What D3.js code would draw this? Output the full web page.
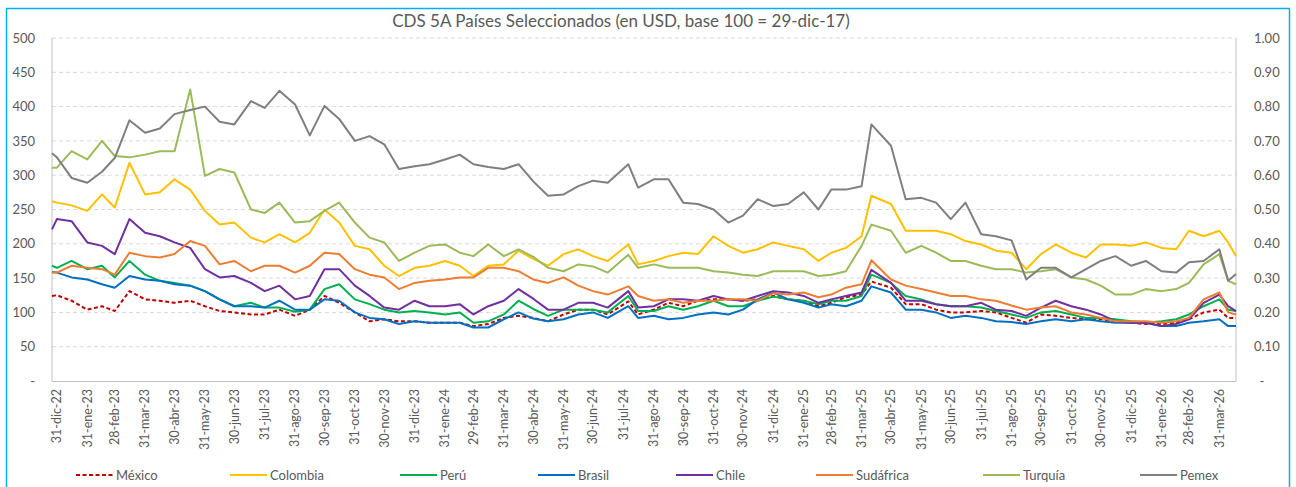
<!DOCTYPE html>
<html>
<head>
<meta charset="utf-8">
<script src="https://cdn.jsdelivr.net/npm/d3@7"></script>
<style>
    body { margin: 0; background: #fff; }
    svg text { font-family: Lato, "Open Sans", sans-serif; fill: #595959; }
</style>
</head>
<body>
<div id="chart"></div>
<script>
// DATA ///////////////////////////////////////////////////////////////////////
const dates = [
    "2022-12-26", "2022-12-31", "2023-01-15", "2023-01-31", "2023-02-15", "2023-02-28",
    "2023-03-15", "2023-03-31", "2023-04-15", "2023-04-30", "2023-05-16", "2023-05-31",
    "2023-06-15", "2023-06-30", "2023-07-17", "2023-07-31", "2023-08-15", "2023-08-31",
    "2023-09-15", "2023-09-30", "2023-10-15", "2023-10-31", "2023-11-15", "2023-11-30",
    "2023-12-15", "2023-12-31", "2024-01-15", "2024-01-31", "2024-02-15", "2024-02-29",
    "2024-03-15", "2024-03-31", "2024-04-15", "2024-04-30", "2024-05-15", "2024-05-31",
    "2024-06-15", "2024-06-30", "2024-07-15", "2024-08-05", "2024-08-15", "2024-08-31",
    "2024-09-15", "2024-09-30", "2024-10-15", "2024-10-31", "2024-11-15", "2024-11-30",
    "2024-12-15", "2024-12-31", "2025-01-15", "2025-01-31", "2025-02-15", "2025-02-28",
    "2025-03-15", "2025-03-31", "2025-04-10", "2025-04-30", "2025-05-15", "2025-05-31",
    "2025-06-15", "2025-06-30", "2025-07-15", "2025-07-31", "2025-08-15", "2025-08-31",
    "2025-09-15", "2025-09-30", "2025-10-15", "2025-10-31", "2025-11-15", "2025-11-30",
    "2025-12-15", "2025-12-31", "2026-01-15", "2026-01-31", "2026-02-15", "2026-02-28",
    "2026-03-15", "2026-03-31", "2026-04-09", "2026-04-17"
];

const mexico = [
    124, 125, 117, 104, 109, 102, 131, 119, 117, 114, 117, 109, 102, 100, 97, 97, 104, 95,
    104, 124, 114, 100, 87, 90, 87, 87, 85, 85, 85, 80, 83, 92, 95, 92, 87, 97,
    104, 104, 97, 116, 97, 104, 114, 109, 117, 119, 119, 117, 119, 124, 119, 117, 109, 114,
    122, 126, 145, 136, 112, 112, 104, 100, 100, 102, 100, 92, 85, 97, 95, 92, 90, 90,
    87, 85, 83, 83, 85, 90, 100, 104, 92, 92
];
const colombia = [
    262, 260, 256, 248, 272, 253, 318, 272, 275, 294, 279, 248, 228, 231, 209, 202, 214, 202,
    216, 250, 231, 197, 192, 168, 153, 165, 168, 175, 168, 153, 168, 170, 190, 178, 168, 185,
    192, 182, 175, 199, 170, 175, 182, 187, 185, 211, 197, 187, 192, 202, 197, 192, 175, 187,
    194, 211, 270, 258, 219, 219, 219, 214, 204, 199, 190, 187, 163, 185, 199, 187, 180, 199,
    199, 197, 202, 194, 192, 219, 211, 219, 202, 182
];
const peru = [
    168, 165, 175, 163, 168, 151, 175, 155, 146, 143, 139, 131, 119, 109, 114, 107, 107, 101,
    104, 134, 141, 119, 112, 104, 100, 102, 100, 97, 100, 85, 87, 97, 117, 105, 95, 104,
    104, 104, 100, 124, 102, 102, 109, 104, 109, 117, 109, 109, 117, 123, 119, 117, 112, 117,
    117, 124, 155, 143, 124, 119, 112, 109, 109, 107, 102, 97, 92, 100, 102, 97, 92, 92,
    90, 87, 85, 87, 90, 97, 109, 119, 104, 102
];
const brasil = [
    159, 158, 151, 148, 141, 136, 153, 148, 146, 141, 139, 131, 119, 109, 109, 107, 117, 104,
    104, 119, 117, 100, 92, 90, 83, 87, 85, 85, 85, 78, 78, 90, 100, 91, 87, 90,
    97, 100, 92, 109, 92, 95, 90, 92, 97, 100, 97, 104, 119, 129, 119, 114, 107, 112,
    109, 117, 138, 129, 104, 104, 100, 92, 95, 92, 87, 86, 83, 87, 90, 87, 90, 87,
    85, 85, 85, 80, 80, 85, 87, 90, 80, 80
];
const chile = [
    221, 236, 233, 202, 197, 185, 236, 216, 211, 202, 194, 163, 151, 153, 143, 131, 139, 119,
    124, 163, 163, 139, 124, 107, 104, 117, 109, 109, 112, 97, 109, 117, 134, 120, 104, 104,
    114, 114, 107, 131, 107, 109, 119, 119, 117, 124, 119, 117, 124, 131, 129, 124, 114, 119,
    124, 129, 162, 143, 117, 117, 112, 109, 109, 114, 104, 102, 95, 107, 117, 109, 104, 97,
    87, 85, 85, 80, 83, 90, 114, 126, 109, 102
];
const sudafrica = [
    158, 158, 168, 165, 163, 155, 187, 182, 180, 185, 204, 197, 170, 175, 160, 168, 168, 158,
    168, 187, 185, 163, 155, 151, 134, 143, 146, 148, 151, 151, 165, 165, 160, 148, 143, 151,
    139, 131, 126, 138, 124, 117, 119, 114, 117, 117, 119, 119, 117, 128, 126, 129, 122, 126,
    136, 141, 176, 148, 139, 134, 129, 124, 124, 119, 117, 110, 104, 107, 109, 100, 97, 92,
    87, 87, 87, 85, 87, 92, 119, 129, 100, 97
];
const turquia = [
    311, 311, 335, 323, 350, 328, 326, 330, 335, 335, 425, 299, 309, 304, 250, 245, 260, 231,
    233, 248, 260, 231, 209, 202, 175, 187, 197, 199, 187, 182, 199, 182, 192, 181, 165, 160,
    170, 167, 158, 184, 165, 170, 165, 165, 165, 160, 158, 155, 153, 160, 160, 160, 153, 155,
    160, 197, 228, 219, 187, 197, 187, 175, 175, 168, 163, 163, 158, 160, 163, 151, 148, 139,
    126, 126, 134, 131, 134, 143, 170, 185, 146, 141
];
const pemex = [
    332, 326, 296, 289, 305, 325, 380, 362, 368, 389, 395, 400, 378, 374, 408, 398, 423, 403,
    358, 401, 382, 350, 357, 345, 309, 313, 316, 323, 330, 316, 312, 309, 316, 291, 270, 272,
    284, 292, 289, 316, 282, 294, 294, 260, 258, 250, 231, 241, 265, 255, 258, 275, 250, 279,
    279, 284, 374, 343, 265, 267, 260, 236, 260, 214, 211, 205, 148, 165, 165, 151, 163, 175,
    182, 168, 175, 160, 158, 173, 175, 192, 146, 156
];

const seriesNames = ["México", "Colombia", "Perú", "Brasil", "Chile", "Sudáfrica", "Turquía", "Pemex"];
const seriesValues = [mexico, colombia, peru, brasil, chile, sudafrica, turquia, pemex];

const tickLabels = [
    "31-dic-22", "31-ene-23", "28-feb-23", "31-mar-23", "30-abr-23", "31-may-23", "30-jun-23",
    "31-jul-23", "31-ago-23", "30-sep-23", "31-oct-23", "30-nov-23", "31-dic-23", "31-ene-24",
    "29-feb-24", "31-mar-24", "30-abr-24", "31-may-24", "30-jun-24", "31-jul-24", "31-ago-24",
    "30-sep-24", "31-oct-24", "30-nov-24", "31-dic-24", "31-ene-25", "28-feb-25", "31-mar-25",
    "30-abr-25", "31-may-25", "30-jun-25", "31-jul-25", "31-ago-25", "30-sep-25", "31-oct-25",
    "30-nov-25", "31-dic-25", "31-ene-26", "28-feb-26", "31-mar-26"
];
const leftTicks = [0, 50, 100, 150, 200, 250, 300, 350, 400, 450, 500];
const rightTicks = [0, 0.1, 0.2, 0.3, 0.4, 0.5, 0.6, 0.7, 0.8, 0.9, 1.0];


// STYLE //////////////////////////////////////////////////////////////////////
const colors = ["#C00000", "#FFC000", "#00B050", "#0070C0", "#7030A0", "#ED7D31", "#9BBB59", "#7F7F7F"];
const legendX = [76, 230, 400, 538, 676, 816, 983, 1140];
const title = "CDS 5A Países Seleccionados (en USD, base 100 = 29-dic-17)";


(function() {
    const width = 1296, height = 487;
    const plot = {left: 52, right: 1236, top: 38, bottom: 381};
    const months = {ene: 0, feb: 1, mar: 2, abr: 3, may: 4, jun: 5,
                    jul: 6, ago: 7, sep: 8, oct: 9, nov: 10, dic: 11};

    const parse = d3.timeParse("%Y-%m-%d");
    const dateValues = dates.map(parse);

    // "31-dic-22" -> Date
    function parseLabel(s) {
        const p = s.split("-");
        return new Date(2000 + (+p[2]), months[p[1]], +p[0]);
    }

    const svg = d3.select("#chart").append("svg")
        .attr("width", width)
        .attr("height", height);

    // Frame
    svg.append("rect")
        .attr("x", 6.5).attr("y", 8.5)
        .attr("width", 1283).attr("height", 490)
        .attr("fill", "none")
        .attr("stroke", "#00B0F0")
        .attr("stroke-width", 1.5);

    const x = d3.scaleTime()
        .domain([dateValues[0], dateValues[dateValues.length - 1]])
        .range([plot.left, plot.right]);
    const y = d3.scaleLinear().domain([0, 500]).range([plot.bottom, plot.top]);
    const y2 = d3.scaleLinear().domain([0, 1]).range([plot.bottom, plot.top]);

    // Gridlines
    svg.append("g")
        .selectAll("line")
        .data(leftTicks.filter(d => d > 0))
        .enter().append("line")
        .attr("x1", plot.left).attr("x2", plot.right)
        .attr("y1", d => y(d)).attr("y2", d => y(d))
        .attr("stroke", "#D9D9D9")
        .attr("stroke-width", 1)
        .attr("stroke-dasharray", "4,3");

    // Axis lines
    const axisColor = "#BFBFBF";
    svg.append("line")
        .attr("x1", plot.left).attr("x2", plot.left)
        .attr("y1", plot.top).attr("y2", plot.bottom)
        .attr("stroke", axisColor);
    svg.append("line")
        .attr("x1", plot.right).attr("x2", plot.right)
        .attr("y1", plot.top).attr("y2", plot.bottom)
        .attr("stroke", axisColor);
    svg.append("line")
        .attr("x1", plot.left).attr("x2", plot.right)
        .attr("y1", plot.bottom + 0.5).attr("y2", plot.bottom + 0.5)
        .attr("stroke", axisColor);

    // Left axis
    const yAxis = d3.axisLeft(y)
        .tickValues(leftTicks)
        .tickSize(0)
        .tickPadding(17)
        .tickFormat(d => d === 0 ? "-" : d);
    svg.append("g")
        .attr("transform", `translate(${plot.left},0)`)
        .call(yAxis)
        .call(g => g.select(".domain").remove())
        .selectAll("text")
        .style("font-size", "13px");

    // Right axis
    const y2Axis = d3.axisRight(y2)
        .tickValues(rightTicks)
        .tickSize(0)
        .tickPadding(18)
        .tickFormat(d => d === 0 ? "-" : d3.format(".2f")(d));
    svg.append("g")
        .attr("transform", `translate(${plot.right},0)`)
        .call(y2Axis)
        .call(g => g.select(".domain").remove())
        .selectAll("text")
        .style("font-size", "13px")
        .attr("text-anchor", d => d === 0 ? "middle" : "start")
        .attr("dx", d => d === 0 ? 8 : 0);

    // Bottom axis: month-end labels, rotated
    svg.append("g")
        .selectAll("text")
        .data(tickLabels)
        .enter().append("text")
        .attr("transform", d => `translate(${x(parseLabel(d))},389) rotate(-90)`)
        .attr("text-anchor", "end")
        .attr("dy", "0.35em")
        .style("font-size", "12.5px")
        .text(d => d);

    // Series
    const line = d3.line()
        .x((d, i) => x(dateValues[i]))
        .y(d => y(d));

    svg.append("g")
        .selectAll("path")
        .data(seriesValues)
        .enter().append("path")
        .attr("d", d => line(d))
        .attr("fill", "none")
        .attr("stroke", (d, i) => colors[i])
        .attr("stroke-width", 2)
        .attr("stroke-linejoin", "round")
        .attr("stroke-dasharray", (d, i) => i === 0 ? "4,2.5" : null);

    // Title
    svg.append("text")
        .attr("x", 621).attr("y", 27)
        .attr("text-anchor", "middle")
        .style("font-size", "17px")
        .text(title);

    // Legend
    const legend = svg.append("g")
        .selectAll("g")
        .data(seriesNames)
        .enter().append("g")
        .attr("transform", (d, i) => `translate(${legendX[i]},475)`);
    legend.append("line")
        .attr("x1", 0).attr("x2", 37)
        .attr("stroke", (d, i) => colors[i])
        .attr("stroke-width", 2)
        .attr("stroke-dasharray", (d, i) => i === 0 ? "4,2.5" : null);
    legend.append("text")
        .attr("x", 40)
        .attr("dy", "0.35em")
        .style("font-size", "13px")
        .text(d => d);
})();
</script>
</body>
</html>
